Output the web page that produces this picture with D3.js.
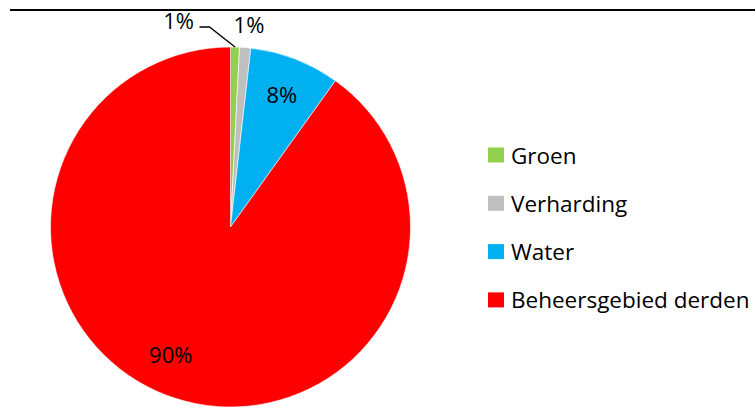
<!DOCTYPE html>
<html>
<head>
<meta charset="utf-8">
<script src="https://cdn.jsdelivr.net/npm/d3@7"></script>
<style>
  body { margin: 0; background: #fff; }
  svg { display: block; }
  text { font-family: "Open Sans", "Noto Sans", sans-serif; fill: #000; }
</style>
</head>
<body>
<svg id="chart" width="755" height="408"></svg>
<script>
// categories and shares (percent)
var categories = ["Groen", "Verharding", "Water", "Beheersgebied derden"];
var values = [0.8, 1.0, 8.1, 90.1];
var labels = ["1%", "1%", "8%", "90%"];
var colours = ["#92D050", "#BFBFBF", "#00B0F0", "#FF0000"];

var width = 755, height = 408;
var cx = 230.5, cy = 227, radius = 180;

var svg = d3.select("#chart");

// rule along the top
svg.append("line")
    .attr("x1", 10).attr("x2", width)
    .attr("y1", 10).attr("y2", 10)
    .attr("stroke", "#000")
    .attr("stroke-width", 2);

var data = categories.map(function(c, i) {
    return {key: c, value: values[i], label: labels[i], colour: colours[i]};
});

var pie = d3.pie().sort(null).value(function(d) { return d.value; });
var arcs = pie(data);
var arc = d3.arc().innerRadius(0).outerRadius(radius);
var labelArc = d3.arc().innerRadius(143).outerRadius(143);

var g = svg.append("g").attr("transform", "translate(" + cx + "," + cy + ")");

g.selectAll("path")
    .data(arcs)
    .enter()
    .append("path")
    .attr("d", arc)
    .attr("fill", function(d) { return d.data.colour; })
    .attr("stroke", "#fff")
    .attr("stroke-width", 0.6);

// inside labels (Excel "best fit" nudges the big one a bit round)
var nudge = {"Beheersgebied derden": [-16, -9]};
g.selectAll("text.inside")
    .data(arcs.filter(function(d) { return d.value > 5; }))
    .enter()
    .append("text")
    .attr("class", "inside")
    .attr("text-anchor", "middle")
    .attr("dominant-baseline", "central")
    .attr("font-size", 22)
    .attr("transform", function(d) {
        var c = labelArc.centroid(d);
        var n = nudge[d.data.key] || [0, 0];
        return "translate(" + (c[0] + n[0]) + "," + (c[1] + n[1]) + ")";
    })
    .text(function(d) { return d.data.label; });

// small slices get labels outside, the first one with a leader line
var small = arcs.filter(function(d) { return d.value <= 5; });
var outside = [
    {x: -52, y: -207},   // Groen
    {x: 18.5, y: -203}   // Verharding
];
small.forEach(function(d, i) {
    var p = outside[i];
    g.append("text")
        .attr("x", p.x).attr("y", p.y)
        .attr("text-anchor", "middle")
        .attr("dominant-baseline", "central")
        .attr("font-size", 22)
        .text(d.data.label);
    if (i === 0) {
        var mid = (d.startAngle + d.endAngle) / 2;
        var ex = Math.sin(mid) * radius, ey = -Math.cos(mid) * radius;
        g.append("polyline")
            .attr("points", [[p.x + 21, -200], [p.x + 31, -200], [ex, ey]].join(" "))
            .attr("fill", "none")
            .attr("stroke", "#000")
            .attr("stroke-width", 1.3);
    }
});

// legend
var legend = svg.append("g").attr("transform", "translate(488,155)");
var rows = legend.selectAll("g")
    .data(data)
    .enter()
    .append("g")
    .attr("transform", function(d, i) { return "translate(0," + (i * 48.3) + ")"; });
rows.append("rect")
    .attr("x", 0).attr("y", -7.5)
    .attr("width", 16).attr("height", 15)
    .attr("fill", function(d) { return d.colour; });
rows.append("text")
    .attr("x", 23).attr("y", 0)
    .attr("dominant-baseline", "central")
    .attr("font-size", 22.5)
    .text(function(d) { return d.key; });
</script>
</body>
</html>
